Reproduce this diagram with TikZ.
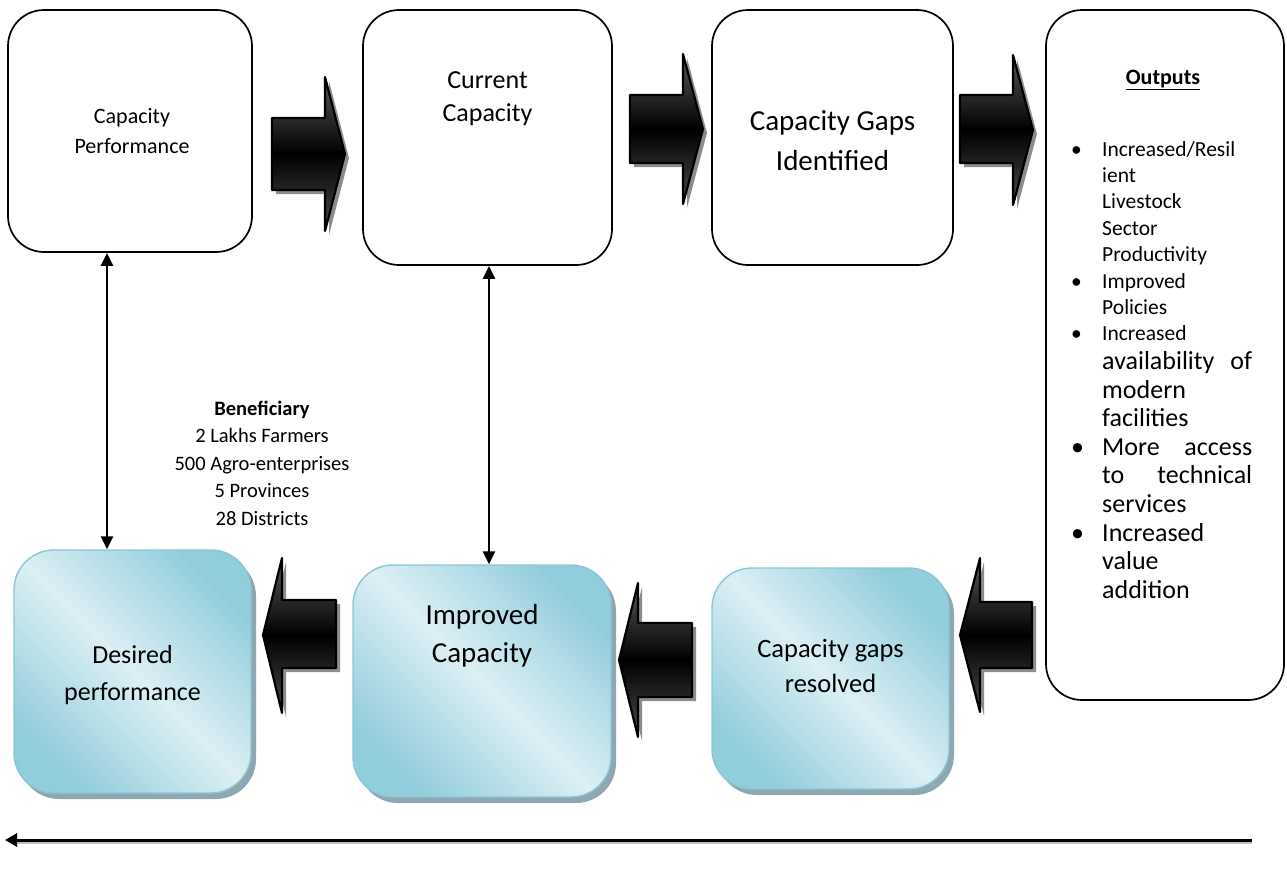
\documentclass[tikz,border=0pt]{standalone}
\usepackage{fontspec}
\setmainfont{Carlito}
\usetikzlibrary{arrows.meta,calc,shadows}
\definecolor{aquaL}{HTML}{DCEFF4}
\definecolor{aquaD}{HTML}{92CDDC}
\definecolor{aquaB}{HTML}{8CC6D6}
\definecolor{aquaS}{HTML}{8EA7B1}
\begin{document}
\begin{tikzpicture}[x=1pt,y=-1pt,
  whitebox/.style={draw=black,line width=1.7pt,rounded corners=36pt,fill=white,inner sep=0pt},
  bluebox/.style={draw=aquaB,line width=1.4pt,rounded corners=40pt,inner sep=0pt,
    left color=aquaD,right color=aquaD,middle color=aquaL,shading angle=-45,
    drop shadow={shadow xshift=5pt,shadow yshift=-6pt,fill=aquaS,opacity=1}},
  blockarrow/.style={draw=black,line width=2.2pt,line join=round,
    top color=black!65,bottom color=black!70,middle color=black,
    drop shadow={shadow xshift=4pt,shadow yshift=-4pt,fill=black!45,opacity=1}},
  linkarrow/.style={line width=2.4pt,{Triangle[length=13pt,width=12pt]}-{Triangle[length=13pt,width=12pt]}},
  boxtext/.style={align=center,inner sep=0pt}
]
\useasboundingbox (0,0) rectangle (1287,873);

% top boxes
\node[whitebox,minimum width=244pt,minimum height=242pt] (box1) at (130,131) {};
\node[whitebox,minimum width=249pt,minimum height=255pt] (box2) at (487.5,137.5) {};
\node[whitebox,minimum width=241pt,minimum height=255pt] (box3) at (832.5,137.5) {};
\node[whitebox,minimum width=238pt,minimum height=690pt] (outbox) at (1165,355) {};

% bottom boxes
\node[bluebox,minimum width=237pt,minimum height=243pt] (box5) at (132.5,671.5) {};
\node[bluebox,minimum width=258pt,minimum height=232pt] (box6) at (482,681) {};
\node[bluebox,minimum width=237pt,minimum height=221pt] (box7) at (830.5,678.5) {};

% texts
\node[boxtext,font=\fontsize{22}{30}\selectfont] (t1) at ($(box1.center)+(2,0)$) {Capacity\\Performance};
\node[boxtext,font=\fontsize{26}{33}\selectfont] (t2) at ($(box2.north)+(0,90)$) {Current\\Capacity};
\node[boxtext,font=\fontsize{29}{40}\selectfont] (t3) at ($(box3.center)+(0,3)$) {Capacity Gaps\\Identified};
\node[boxtext,font=\fontsize{26}{37}\selectfont] (t5) at ($(box5.center)+(0,4)$) {Desired\\performance};
\node[boxtext,font=\fontsize{29}{38}\selectfont] (t6) at ($(box6.north)+(0,71)$) {Improved\\Capacity};
\node[boxtext,font=\fontsize{26.5}{35}\selectfont] (t7) at ($(box7.center)+(0,-13)$) {Capacity gaps\\resolved};

% beneficiary
\node[boxtext,font=\fontsize{20.5}{27.5}\selectfont] (benef) at (262,463)
  {\textbf{Beneficiary}\\2 Lakhs Farmers\\500 Agro-enterprises\\5 Provinces\\28 Districts};

% outputs
\node[boxtext,font=\fontsize{22}{26}\selectfont\bfseries] (outtitle) at (1163,80) {\underline{Outputs}};
\newcommand{\mybul}{\makebox[32pt][l]{\hspace*{1pt}\textbullet}}
\newcommand{\myind}{\hspace*{32pt}}
\newcommand{\bigf}{\fontsize{26}{28.6}\selectfont}
\node[anchor=north west,inner sep=0pt,align=left,text width=190pt,
      font=\fontsize{21.5}{26.4}\selectfont] (outlist) at (1070,141)
{\mybul Increased/Resil\\
 \myind ient\\
 \myind Livestock\\
 \myind Sector\\
 \myind Productivity\\
 \mybul Improved\\
 \myind Policies\\
 \mybul Increased\\[2.2pt]
 \myind{\bigf\hbox to 150pt{availability\hfill of}}\\[2.2pt]
 \myind{\bigf modern}\\[2.2pt]
 \myind{\bigf facilities}\\[2.2pt]
 {\bigf\mybul\hbox to 150pt{More\hfill access}}\\[2.2pt]
 {\bigf\myind\hbox to 150pt{to\hfill technical}}\\[2.2pt]
 {\bigf\myind services}\\[2.2pt]
 {\bigf\mybul Increased}\\[2.2pt]
 {\bigf\myind value}\\[2.2pt]
 {\bigf\myind addition}};

% block arrows (right pointing)
\path[blockarrow] (272,118) -- (325,118) -- (325,77) -- (345,154) -- (325,231) -- (325,190) -- (272,190) -- cycle;
\path[blockarrow] (630,95) -- (683,95) -- (683,54) -- (703,129) -- (683,204) -- (683,163) -- (630,163) -- cycle;
\path[blockarrow] (960,95) -- (1013,95) -- (1013,55) -- (1033,130) -- (1013,205) -- (1013,163) -- (960,163) -- cycle;
% block arrows (left pointing)
\path[blockarrow] (336,600) -- (282,600) -- (282,558) -- (263,635) -- (282,713) -- (282,668) -- (336,668) -- cycle;
\path[blockarrow] (692,623) -- (638,623) -- (638,583) -- (619,660) -- (638,737) -- (638,697) -- (692,697) -- cycle;
\path[blockarrow] (1032,602) -- (980,602) -- (980,558) -- (960,635) -- (980,712) -- (980,668) -- (1032,668) -- cycle;

% vertical links
\coordinate (v1) at (107,0);
\coordinate (v2) at (489,0);
\draw[linkarrow] (box1.south -| v1) -- (box5.north -| v1);
\draw[linkarrow] (box2.south -| v2) -- (box6.north -| v2);

% bottom long arrow
\coordinate (lineR) at (1252,840);
\coordinate (lineL) at (5,840);
\draw[line width=3pt,black!25] ($(lineR)+(0,2.5)$) -- ($(lineL)+(10,2.5)$);
\draw[line width=3pt,-{Triangle[length=12pt,width=13pt]}] (lineR) -- (lineL);
\end{tikzpicture}
\end{document}
